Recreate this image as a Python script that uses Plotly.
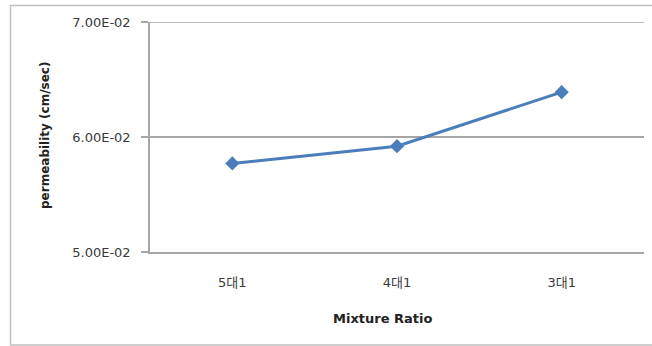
import plotly.graph_objects as go

# Mixture ratio vs. measured permeability
ratios = ["5대1", "4대1", "3대1"]
permeability = [0.0577, 0.0592, 0.0639]

y_ticks = [0.05, 0.06, 0.07]
y_tick_labels = ["5.00E-02", "6.00E-02", "7.00E-02"]

W, H = 652, 346
L, R, T, B = 150, 8, 22, 94
pw, ph = W - L - R, H - T - B


def px_x(x):
    return (x - L) / pw


def px_y(y):
    return (H - B - y) / ph


axis_grey = "#a6a6a6"
text_col = "#3a3a3a"
cat_font = dict(family="DejaVu Sans, Noto Sans CJK KR", size=13, color=text_col)
num_font = dict(family="DejaVu Sans", size=13, color=text_col)

fig = go.Figure()
fig.add_trace(go.Scatter(
    x=ratios,
    y=permeability,
    mode="lines+markers",
    line=dict(color="#4a7ebb", width=3),
    marker=dict(symbol="diamond", size=11, color="#4a7ebb"),
    showlegend=False,
))

fig.update_layout(
    width=W,
    height=H,
    margin=dict(l=L, r=R, t=T, b=B),
    paper_bgcolor="white",
    plot_bgcolor="white",
    xaxis=dict(
        type="category",
        range=[-0.5, 2.5],
        showline=True,
        linecolor=axis_grey,
        linewidth=1.5,
        showgrid=False,
        ticks="",
        tickfont=cat_font,
        ticklabelstandoff=18,
        zeroline=False,
    ),
    yaxis=dict(
        range=[0.05, 0.07],
        tickvals=y_ticks,
        ticktext=y_tick_labels,
        showline=True,
        linecolor=axis_grey,
        linewidth=1.5,
        showgrid=True,
        gridcolor=axis_grey,
        gridwidth=1.5,
        ticks="outside",
        ticklen=7,
        tickcolor=axis_grey,
        tickwidth=1.5,
        tickfont=num_font,
        ticklabelstandoff=8,
        zeroline=False,
    ),
    shapes=[
        dict(
            type="rect",
            xref="paper", yref="paper",
            x0=px_x(10.5), x1=px_x(664),
            y0=px_y(345), y1=px_y(5.5),
            line=dict(color="#c0c0c0", width=1.5),
            fillcolor="rgba(0,0,0,0)",
            layer="below",
        ),
        # gridline at the top of the value range
        dict(
            type="line",
            xref="paper", yref="y",
            x0=0, x1=1,
            y0=y_ticks[-1], y1=y_ticks[-1],
            line=dict(color=axis_grey, width=1.5),
            layer="below",
        ),
    ],
    annotations=[
        dict(
            text="<b>Mixture Ratio</b>",
            xref="paper", yref="paper",
            x=px_x(382), y=px_y(318),
            showarrow=False,
            xanchor="center", yanchor="middle",
            font=dict(family="DejaVu Sans", size=13, color="#222"),
        ),
        dict(
            text="<b>permeability (cm/sec)</b>",
            xref="paper", yref="paper",
            x=px_x(45), y=px_y(136),
            textangle=-90,
            showarrow=False,
            xanchor="center", yanchor="middle",
            font=dict(family="DejaVu Sans", size=12, color="#222"),
        ),
    ],
)

fig.write_html("out.html")
